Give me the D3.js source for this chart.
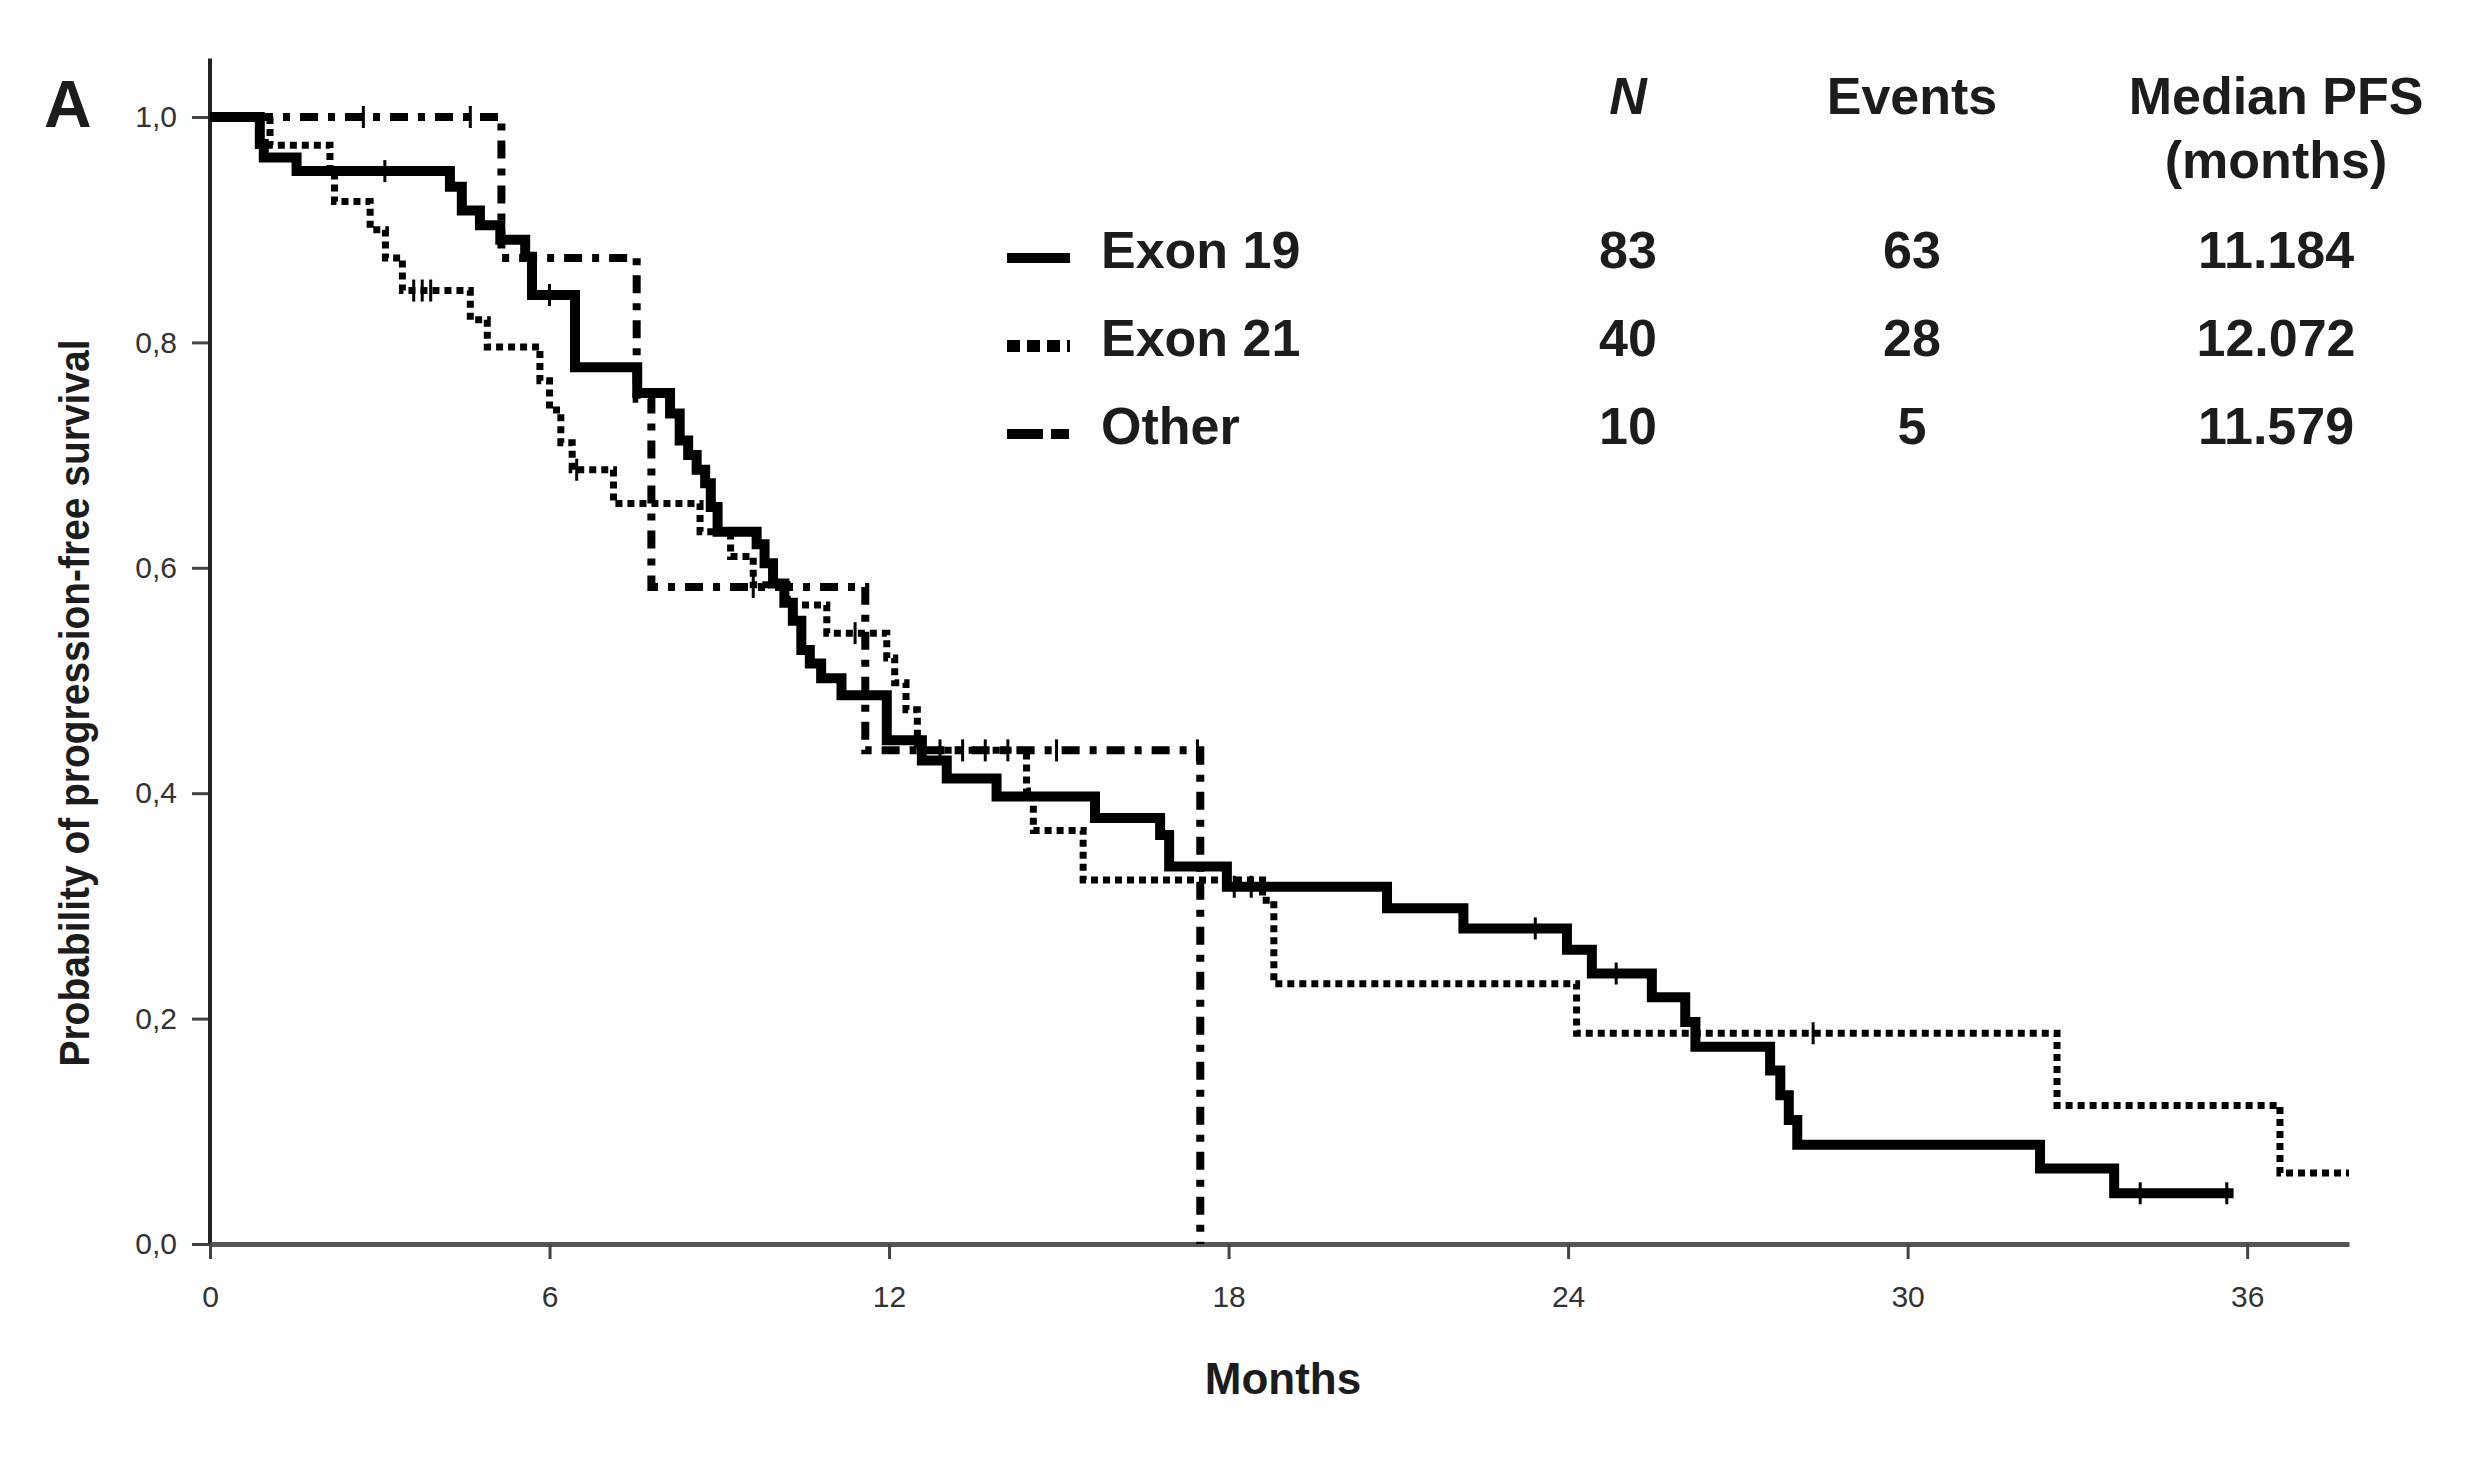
<!DOCTYPE html>
<html>
<head>
<meta charset="utf-8">
<script src="https://cdn.jsdelivr.net/npm/d3@7"></script>
<style>
  body { margin: 0; background: #fff; }
  text { font-family: "Liberation Sans", Arial, sans-serif; fill: #1c1c1c; }
</style>
</head>
<body>
<svg id="chart" width="2472" height="1460"></svg>
<script>
'use strict';

// Kaplan-Meier steps (months, probability)
var exon19Times = [0, 0.88, 0.95, 1.53, 4.24, 4.45, 4.77, 5.13, 5.57, 5.69, 6.45, 7.55, 8.13, 8.3, 8.45, 8.6, 8.75, 8.85, 8.97,
    9.66, 9.8, 9.95, 10.15, 10.3, 10.45, 10.6, 10.8, 11.16, 11.96, 12.58, 13.02, 13.9, 15.64, 16.79, 16.95, 17.97,
    20.8, 22.15, 23.98, 24.42, 25.48, 26.07, 26.25, 27.57, 27.75, 27.9, 28.05, 32.34, 33.65];
var exon19Surv = [1, 0.976, 0.964, 0.952, 0.938, 0.917, 0.904, 0.891, 0.876, 0.842, 0.778, 0.755, 0.737, 0.713, 0.70, 0.687, 0.675, 0.654, 0.632,
    0.621, 0.604, 0.586, 0.569, 0.553, 0.527, 0.515, 0.502, 0.487, 0.447, 0.429, 0.413, 0.397, 0.378, 0.363, 0.335, 0.317,
    0.298, 0.280, 0.261, 0.240, 0.219, 0.197, 0.175, 0.154, 0.132, 0.110, 0.088, 0.067, 0.045];
var exon19End = 35.76;
var exon19Censor = [3.09, 6.0, 18.1, 18.4, 23.42, 24.85, 34.11, 35.64];

var exon21Times = [0, 1.06, 2.12, 2.2, 2.83, 3.1, 3.4, 4.6, 4.9, 5.83, 6.0, 6.2, 6.4, 7.13, 8.66, 9.2, 9.6, 10.2, 10.9, 11.96,
    12.1, 12.3, 12.5, 14.43, 14.55, 15.43, 18.6, 18.8, 24.15, 32.64, 36.58];
var exon21Surv = [1, 0.975, 0.95, 0.925, 0.90, 0.875, 0.846, 0.82, 0.796, 0.766, 0.74, 0.711, 0.687, 0.657, 0.632, 0.61, 0.585, 0.567, 0.542, 0.52,
    0.498, 0.474, 0.438, 0.402, 0.367, 0.323, 0.305, 0.231, 0.187, 0.123, 0.063];
var exon21End = 37.8;
var exon21Censor = [3.6, 3.75, 3.9, 6.48, 11.4, 12.9, 13.3, 13.7, 14.1, 28.33];

var otherTimes = [0, 5.15, 7.54, 7.8, 11.58, 17.5];
var otherSurv = [1, 0.875, 0.75, 0.583, 0.438, 0];
var otherEnd = 17.5;
var otherCensor = [2.71, 4.6, 9.6, 14.96, 17.45];

// table beside the legend
var groupNames = ['Exon 19', 'Exon 21', 'Other'];
var nValues = ['83', '40', '10'];
var eventValues = ['63', '28', '5'];
var medianValues = ['11.184', '12.072', '11.579'];

var xTicks = [0, 6, 12, 18, 24, 30, 36];
var yTicks = [0, 0.2, 0.4, 0.6, 0.8, 1.0];

var svg = d3.select('#chart');

var x = d3.scaleLinear().domain([0, 37.8]).range([210, 2349]);
var y = d3.scaleLinear().domain([0, 1]).range([1244, 117]);

var series = [
    {times: exon19Times, surv: exon19Surv, end: exon19End, censor: exon19Censor,
        width: 10, dash: null, legendDash: null, legendWidth: 10},
    {times: exon21Times, surv: exon21Surv, end: exon21End, censor: exon21Censor,
        width: 7, dash: '7,5', legendDash: '13,7', legendWidth: 12},
    {times: otherTimes, surv: otherSurv, end: otherEnd, censor: otherCensor,
        width: 8, dash: '18,10,7,10', legendDash: '36,8,18,8', legendWidth: 10}
];

function stepPoints(s) {
    var pts = s.times.map(function(t, i) { return [t, s.surv[i]]; });
    var last = pts[pts.length - 1];
    if(last[0] < s.end) pts.push([s.end, last[1]]);
    return pts;
}

function survAt(s, t) {
    var v = s.surv[0];
    for(var i = 0; i < s.times.length; i++) {
        if(s.times[i] <= t) v = s.surv[i];
    }
    return v;
}

// axes
var yAxis = d3.axisLeft(y)
    .tickValues(yTicks)
    .tickSize(18)
    .tickPadding(15)
    .tickFormat(function(d) { return d3.format('.1f')(d).replace('.', ','); });

var gy = svg.append('g').attr('class', 'yaxis').attr('transform', 'translate(210,0)').call(yAxis);
gy.select('.domain').remove();
gy.selectAll('.tick line').attr('stroke', '#444').attr('stroke-width', 3);
gy.selectAll('.tick text').style('font-size', '30px').style('fill', '#333');

svg.append('line')
    .attr('x1', x(0)).attr('x2', x(0))
    .attr('y1', y(0)).attr('y2', y(1.052))
    .attr('stroke', '#222').attr('stroke-width', 4);

var xAxis = d3.axisBottom(x)
    .tickValues(xTicks)
    .tickSize(15)
    .tickSizeOuter(0)
    .tickPadding(27)
    .tickFormat(d3.format('d'));

var gx = svg.append('g').attr('class', 'xaxis').attr('transform', 'translate(0,' + y(0) + ')').call(xAxis);
gx.select('.domain').attr('stroke', '#555').attr('stroke-width', 5);
gx.selectAll('.tick line').attr('stroke', '#444').attr('stroke-width', 3);
gx.selectAll('.tick text').style('font-size', '30px').style('fill', '#333');

// curves
var line = d3.line()
    .x(function(d) { return x(d[0]); })
    .y(function(d) { return y(d[1]); })
    .curve(d3.curveStepAfter);

var plot = svg.append('g').attr('class', 'plot');

series.forEach(function(s) {
    plot.append('path')
        .datum(stepPoints(s))
        .attr('d', line)
        .attr('fill', 'none')
        .attr('stroke', '#000')
        .attr('stroke-width', s.width)
        .attr('stroke-dasharray', s.dash);

    plot.selectAll(null)
        .data(s.censor)
        .enter().append('line')
        .attr('x1', function(t) { return x(t); })
        .attr('x2', function(t) { return x(t); })
        .attr('y1', function(t) { return y(survAt(s, t)) - 11; })
        .attr('y2', function(t) { return y(survAt(s, t)) + 11; })
        .attr('stroke', '#000')
        .attr('stroke-width', 3);
});

// axis titles
svg.append('text')
    .attr('transform', 'translate(89,703) rotate(-90)')
    .attr('text-anchor', 'middle')
    .attr('textLength', 727)
    .attr('lengthAdjust', 'spacingAndGlyphs')
    .style('font-size', '42px')
    .style('font-weight', 'bold')
    .text('Probability of progression-free survival');

svg.append('text')
    .attr('x', 1283).attr('y', 1394)
    .attr('text-anchor', 'middle')
    .style('font-size', '44px')
    .style('font-weight', 'bold')
    .text('Months');

svg.append('text')
    .attr('x', 44).attr('y', 127)
    .style('font-size', '66px')
    .style('font-weight', 'bold')
    .text('A');

// legend + table
var rowY = [268, 356, 444];
var colN = 1628, colEvents = 1912, colMedian = 2276;

var head = svg.append('g').attr('class', 'header')
    .style('font-size', '52px').style('font-weight', 'bold');
head.append('text').attr('x', colN).attr('y', 114).attr('text-anchor', 'middle')
    .style('font-style', 'italic').text('N');
head.append('text').attr('x', colEvents).attr('y', 114).attr('text-anchor', 'middle').text('Events');
head.append('text').attr('x', colMedian).attr('y', 114).attr('text-anchor', 'middle').text('Median PFS');
head.append('text').attr('x', colMedian).attr('y', 178).attr('text-anchor', 'middle').text('(months)');

var rows = svg.append('g').attr('class', 'legend')
    .selectAll('g')
    .data(groupNames)
    .enter().append('g')
    .attr('transform', function(d, i) { return 'translate(0,' + rowY[i] + ')'; })
    .style('font-size', '52px').style('font-weight', 'bold');

rows.append('line')
    .attr('x1', 1007).attr('x2', 1070)
    .attr('y1', -10).attr('y2', -10)
    .attr('stroke', '#000')
    .attr('stroke-width', function(d, i) { return series[i].legendWidth; })
    .attr('stroke-dasharray', function(d, i) { return series[i].legendDash; });

rows.append('text').attr('x', 1101).text(function(d) { return d; });
rows.append('text').attr('x', colN).attr('text-anchor', 'middle')
    .text(function(d, i) { return nValues[i]; });
rows.append('text').attr('x', colEvents).attr('text-anchor', 'middle')
    .text(function(d, i) { return eventValues[i]; });
rows.append('text').attr('x', colMedian).attr('text-anchor', 'middle')
    .text(function(d, i) { return medianValues[i]; });
</script>
</body>
</html>
